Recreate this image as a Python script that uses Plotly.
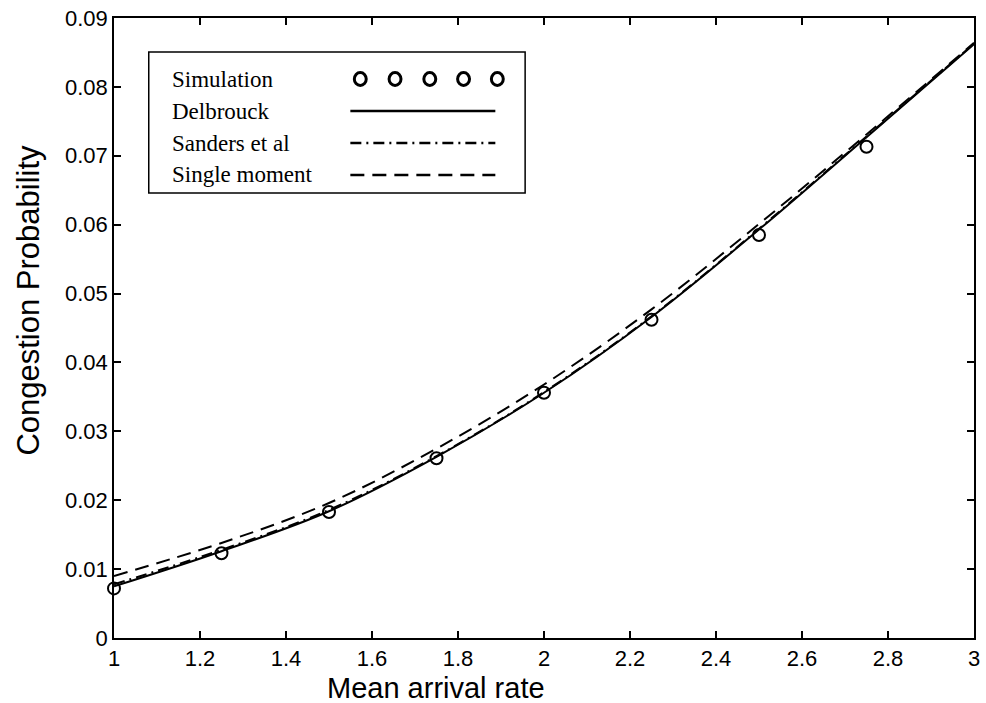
import plotly.graph_objects as go

# Mean arrival rate grid
rate = [1.0, 1.25, 1.5, 1.75, 2.0, 2.25, 2.5, 2.75, 3.0]

# Congestion probability for each model
delbrouck = [0.0075, 0.0126, 0.0184, 0.0263, 0.0356, 0.0466, 0.0593, 0.0727, 0.0862]
sanders = [0.0078, 0.0128, 0.0186, 0.0264, 0.0357, 0.0467, 0.0594, 0.0728, 0.0863]
single_moment = [0.0090, 0.0138, 0.0196, 0.0275, 0.0368, 0.0477, 0.0601, 0.0731, 0.0864]

# Simulation results
sim_rate = [1.0, 1.25, 1.5, 1.75, 2.0, 2.25, 2.5, 2.75]
sim_prob = [0.0072, 0.0123, 0.0183, 0.0261, 0.0356, 0.0462, 0.0585, 0.0713]

legend_labels = ["Simulation", "Delbrouck", "Sanders et al", "Single moment"]

x_ticks = [1, 1.2, 1.4, 1.6, 1.8, 2, 2.2, 2.4, 2.6, 2.8, 3]
y_ticks = [0, 0.01, 0.02, 0.03, 0.04, 0.05, 0.06, 0.07, 0.08, 0.09]

W, H = 986, 703
ML, MR, MT, MB = 114, 6, 18, 65
PW, PH = W - ML - MR, H - MT - MB


def px(x):
    return (x - ML) / PW


def py(y):
    return (H - MB - y) / PH


DASH = "14px,8px"
DASHDOT = "11px,5px,2px,5px"

fig = go.Figure()
fig.add_trace(go.Scatter(x=rate, y=delbrouck, mode="lines", line_shape="spline",
                         line=dict(color="black", width=2), showlegend=False))
fig.add_trace(go.Scatter(x=rate, y=sanders, mode="lines", line_shape="spline",
                         line=dict(color="black", width=2, dash=DASHDOT), showlegend=False))
fig.add_trace(go.Scatter(x=rate, y=single_moment, mode="lines", line_shape="spline",
                         line=dict(color="black", width=2, dash=DASH), showlegend=False))
fig.add_trace(go.Scatter(x=sim_rate, y=sim_prob, mode="markers",
                         marker=dict(symbol="circle-open", size=12, color="black",
                                     line=dict(width=2, color="black")),
                         showlegend=False, cliponaxis=False))

shapes = []
annotations = []

# Legend box
shapes.append(dict(type="rect", xref="paper", yref="paper",
                   x0=px(149), x1=px(528), y0=py(193), y1=py(52),
                   line=dict(color="black", width=1.5), fillcolor="white", layer="above"))
rows = [79, 111, 143, 175]
for label, ry in zip(legend_labels, rows):
    annotations.append(dict(xref="paper", yref="paper", x=px(170), y=py(ry),
                            text=label, showarrow=False, xanchor="left", yanchor="middle",
                            font=dict(family="Liberation Serif, Times New Roman, serif",
                                      size=23, color="black")))
# Circle keys
for cx in [362, 397, 432, 466, 500]:
    shapes.append(dict(type="circle", xref="paper", yref="paper",
                       x0=px(cx - 6), x1=px(cx + 6), y0=py(rows[0] + 6.5), y1=py(rows[0] - 6.5),
                       line=dict(color="black", width=3), layer="above"))
# Line keys
for ry, dash in zip(rows[1:], ["solid", DASHDOT, DASH]):
    shapes.append(dict(type="line", xref="paper", yref="paper",
                       x0=px(352), x1=px(498), y0=py(ry), y1=py(ry),
                       line=dict(color="black", width=2.5, dash=dash), layer="above"))

annotations.append(dict(xref="paper", yref="paper", x=px(438), y=py(688),
                        text="Mean arrival rate", showarrow=False,
                        xanchor="center", yanchor="middle",
                        font=dict(family="Liberation Sans, Arial, sans-serif", size=29, color="black")))
annotations.append(dict(xref="paper", yref="paper", x=px(27), y=py(300),
                        text="Congestion Probability", showarrow=False, textangle=-90,
                        xanchor="center", yanchor="middle",
                        font=dict(family="Liberation Sans, Arial, sans-serif", size=31, color="black")))

axis_common = dict(showline=True, linecolor="black", linewidth=1.5, mirror="ticks",
                   ticks="inside", ticklen=7, tickwidth=1.5, tickcolor="black",
                   showgrid=False, zeroline=False,
                   tickfont=dict(family="Liberation Sans, Arial, sans-serif", size=22, color="black"))

fig.update_layout(
    width=W, height=H,
    margin=dict(l=ML, r=MR, t=MT, b=MB),
    paper_bgcolor="white", plot_bgcolor="white",
    xaxis=dict(range=[1, 3], tickvals=x_ticks, ticktext=[f"{v:g}" for v in x_ticks], **axis_common),
    yaxis=dict(range=[0, 0.09], tickvals=y_ticks, ticktext=[f"{v:g}" for v in y_ticks], **axis_common),
    shapes=shapes, annotations=annotations,
)

fig.write_html("out.html")
